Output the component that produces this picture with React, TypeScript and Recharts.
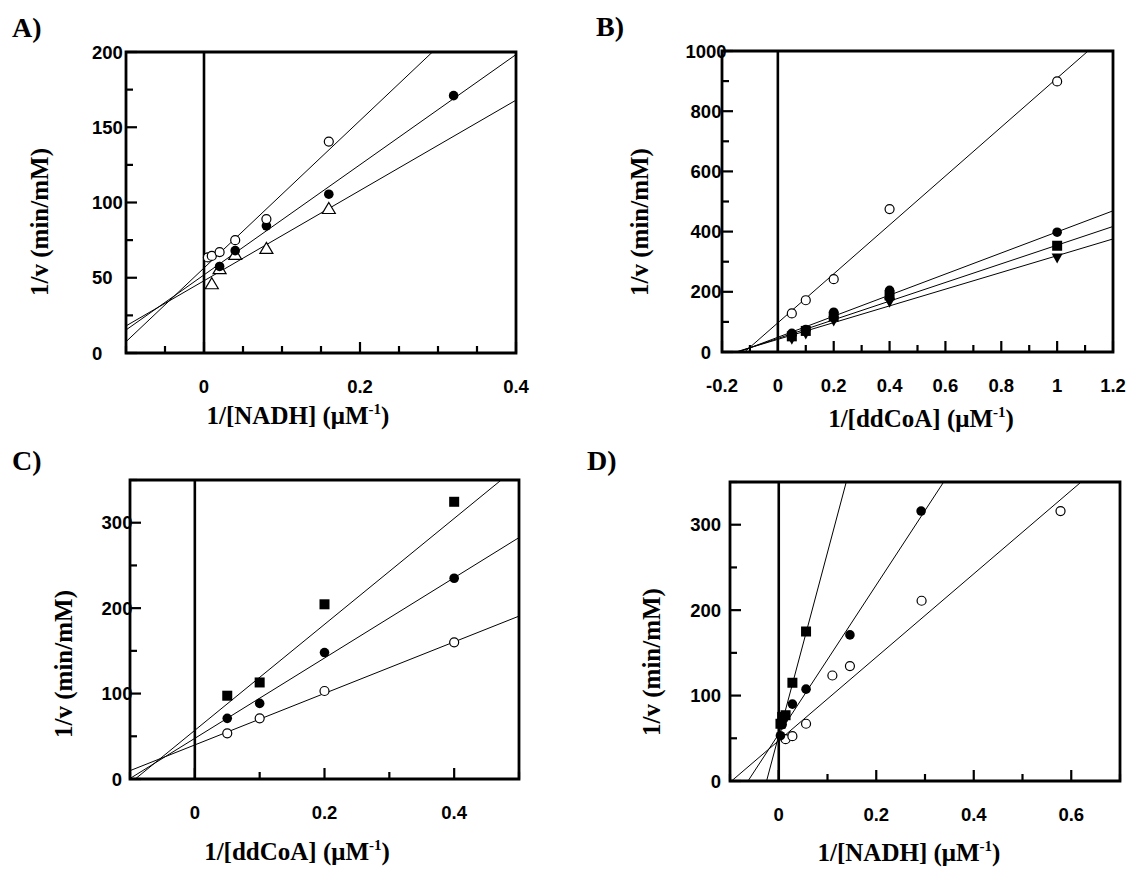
import React from 'react';
import { ScatterChart, Scatter, XAxis, YAxis, ReferenceLine, ReferenceArea } from 'recharts';

const W = 1128;
const H = 871;

// ---------- Panel A : 1/v vs 1/[NADH] ----------
const aXTicks = [-0.1, -0.05, 0, 0.05, 0.1, 0.15, 0.2, 0.25, 0.3, 0.35, 0.4];
const aXLabels = [0, 0.2, 0.4];
const aYTicks = [0, 25, 50, 75, 100, 125, 150, 175, 200];
const aYLabels = [0, 50, 100, 150, 200];
const aOpenX = [0.005, 0.01, 0.02, 0.04, 0.08, 0.16];
const aOpenY = [63.5, 64.5, 67, 75, 89, 140.5];
const aFilledX = [0.02, 0.04, 0.08, 0.16, 0.32];
const aFilledY = [57.5, 68, 84.5, 105.5, 171];
const aTriX = [0.01, 0.02, 0.04, 0.08, 0.16];
const aTriY = [46, 56, 65.5, 69.5, 96];
// fitted lines: [slope, intercept]
const aFitOpen = [490, 56.5];
const aFitFilled = [366, 51.9];
const aFitTri = [300, 48];

// ---------- Panel B : 1/v vs 1/[ddCoA] ----------
const bXTicks = [-0.2, -0.1, 0, 0.1, 0.2, 0.3, 0.4, 0.5, 0.6, 0.7, 0.8, 0.9, 1, 1.1, 1.2];
const bXLabels = [-0.2, 0, 0.2, 0.4, 0.6, 0.8, 1, 1.2];
const bYTicks = [0, 100, 200, 300, 400, 500, 600, 700, 800, 900, 1000];
const bYLabels = [0, 200, 400, 600, 800, 1000];
const bX = [0.05, 0.1, 0.2, 0.4, 1.0];
const bOpenY = [128, 172, 242, 475, 899];
const bCircleY = [62, 75, 132, 205, 398];
const bSquareY = [52, 70, 118, 188, 353];
const bTriY = [42, 60, 103, 165, 312];
const bFitOpen = [813, 97];
const bFitCircle = [350, 49];
const bFitSquare = [310, 45];
const bFitTri = [278, 42];

// ---------- Panel C : 1/v vs 1/[ddCoA] ----------
const cXTicks = [-0.1, 0, 0.1, 0.2, 0.3, 0.4, 0.5];
const cXLabels = [0, 0.2, 0.4];
const cYTicks = [0, 50, 100, 150, 200, 250, 300, 350];
const cYLabels = [0, 100, 200, 300];
const cX = [0.05, 0.1, 0.2, 0.4];
const cSquareY = [97.5, 113, 204.5, 324.5];
const cCircleY = [71, 88.5, 148, 235];
const cOpenY = [53.5, 71, 103, 160];
const cFitSquare = [620, 57];
const cFitCircle = [470, 47.6];
const cFitOpen = [301.5, 39.9];

// ---------- Panel D : 1/v vs 1/[NADH] ----------
const dXTicks = [-0.1, 0, 0.1, 0.2, 0.3, 0.4, 0.5, 0.6, 0.7];
const dXLabels = [0, 0.2, 0.4, 0.6];
const dYTicks = [0, 50, 100, 150, 200, 250, 300, 350];
const dYLabels = [0, 100, 200, 300];
const dSquareX = [0.0035, 0.007, 0.014, 0.028, 0.056];
const dSquareY = [67, 75, 77, 115, 175];
const dCircleX = [0.0035, 0.007, 0.028, 0.056, 0.146, 0.292];
const dCircleY = [53, 66, 90, 107.5, 171, 316];
const dOpenX = [0.014, 0.028, 0.056, 0.11, 0.146, 0.293, 0.578];
const dOpenY = [49, 52.5, 67, 123.5, 134.5, 211, 316];
const dFitSquare = [2141, 53.5];
const dFitCircle = [872, 55];
const dFitOpen = [488, 47.3];

const SANS = '"Liberation Sans", Arial, sans-serif';
const SERIF = '"Liberation Serif", "Times New Roman", serif';
const TICK_FONT = 18.5;

const pts = (xs: number[], ys: number[]) => xs.map((x, i) => ({ x, y: ys[i] }));

const openCircle = (p: any) => (
  <circle cx={p.cx} cy={p.cy} r={4.5} fill="#fff" stroke="#000" strokeWidth={1.2} />
);
const filledCircle = (p: any) => <circle cx={p.cx} cy={p.cy} r={4.8} fill="#000" />;
const filledSquare = (p: any) => (
  <rect x={p.cx - 5} y={p.cy - 5} width={10} height={10} fill="#000" />
);
const openTriangle = (p: any) => (
  <path
    d={`M${p.cx},${p.cy - 6} L${p.cx + 6.5},${p.cy + 5} L${p.cx - 6.5},${p.cy + 5} Z`}
    fill="#fff"
    stroke="#000"
    strokeWidth={1.2}
  />
);
const downTriangle = (p: any) => (
  <path
    d={`M${p.cx - 5.5},${p.cy - 4.5} L${p.cx + 5.5},${p.cy - 4.5} L${p.cx},${p.cy + 5.5} Z`}
    fill="#000"
  />
);

const isIn = (arr: number[], v: number) => arr.some((a) => Math.abs(a - v) < 1e-9);

type Rect = { left: number; top: number; right: number; bottom: number };
type Series = { data: { x: number; y: number }[]; shape: (p: any) => React.ReactElement };

interface PanelProps {
  rect: Rect;
  xDomain: [number, number];
  yDomain: [number, number];
  xTicks: number[];
  xLabels: number[];
  yTicks: number[];
  yLabels: number[];
  yLabelMode: { anchor: 'start' | 'middle' | 'end'; x: number };
  fits: number[][];
  series: Series[];
}

function Panel(props: PanelProps) {
  const { rect, xDomain, yDomain, xTicks, xLabels, yTicks, yLabels, yLabelMode, fits, series } = props;
  const xTick = (tp: any) => {
    const { x, payload } = tp;
    const y = rect.bottom;
    const v = payload.value;
    const major = isIn(xLabels, v);
    return (
      <g>
        <line x1={x} x2={x} y1={y} y2={y - (major ? 11 : 7)} stroke="#000" strokeWidth={2.2} />
        {major && (
          <text x={x} y={y + 40} textAnchor="middle" fontFamily={SANS} fontWeight="bold" fontSize={TICK_FONT} fill="#000">
            {String(v)}
          </text>
        )}
      </g>
    );
  };
  const yTick = (tp: any) => {
    const { y, payload } = tp;
    const x = rect.left;
    const v = payload.value;
    const major = isIn(yLabels, v);
    return (
      <g>
        <line x1={x} x2={x + (major ? 11 : 7)} y1={y} y2={y} stroke="#000" strokeWidth={2.2} />
        {major && (
          <text
            x={yLabelMode.x}
            y={y + 6.5}
            textAnchor={yLabelMode.anchor}
            fontFamily={SANS}
            fontWeight="bold"
            fontSize={TICK_FONT}
            fill="#000"
          >
            {String(v)}
          </text>
        )}
      </g>
    );
  };
  return (
    <div style={{ position: 'absolute', left: 0, top: 0 }}>
      <ScatterChart
        width={W}
        height={H}
        margin={{ top: rect.top, left: rect.left - 2, right: W - rect.right, bottom: H - rect.bottom - 2 }}
      >
        <XAxis
          type="number"
          dataKey="x"
          domain={xDomain}
          ticks={xTicks}
          interval={0}
          allowDataOverflow
          height={2}
          tickSize={0}
          tickMargin={0}
          tickLine={false}
          axisLine={false}
          tick={xTick}
        />
        <YAxis
          type="number"
          dataKey="y"
          domain={yDomain}
          ticks={yTicks}
          interval={0}
          allowDataOverflow
          width={2}
          tickSize={0}
          tickMargin={0}
          tickLine={false}
          axisLine={false}
          tick={yTick}
        />
        {fits.map((f, i) => (
          <ReferenceLine
            key={`fit${i}`}
            segment={[
              { x: xDomain[0], y: f[1] + f[0] * xDomain[0] },
              { x: xDomain[1], y: f[1] + f[0] * xDomain[1] },
            ]}
            stroke="#000"
            strokeWidth={1}
            ifOverflow="hidden"
          />
        ))}
        <ReferenceLine x={0} stroke="#000" strokeWidth={2.6} />
        <ReferenceArea
          x1={xDomain[0]}
          x2={xDomain[1]}
          y1={yDomain[0]}
          y2={yDomain[1]}
          fill="none"
          fillOpacity={0}
          stroke="#000"
          strokeWidth={2.8}
        />
        {series.map((s, i) => (
          <Scatter key={`s${i}`} data={s.data} shape={s.shape} isAnimationActive={false} />
        ))}
      </ScatterChart>
    </div>
  );
}

function XTitle({ x, y, text }: { x: number; y: number; text: string }) {
  return (
    <text x={x} y={y} textAnchor="middle" fontFamily={SERIF} fontWeight="bold" fontSize={25} fill="#000">
      {text} (μM
      <tspan dy={-10} fontSize={15}>
        -1
      </tspan>
      <tspan dy={10}>)</tspan>
    </text>
  );
}

function YTitle({ x, y }: { x: number; y: number }) {
  return (
    <text
      x={x}
      y={y}
      transform={`rotate(-90 ${x} ${y})`}
      textAnchor="middle"
      dominantBaseline="central"
      fontFamily={SERIF}
      fontWeight="bold"
      fontSize={25}
      fill="#000"
    >
      1/v (min/mM)
    </text>
  );
}

export default function App() {
  return (
    <div style={{ position: 'absolute', left: 0, top: 0, width: W, height: H, background: '#fff', overflow: 'hidden' }}>
      <Panel
        rect={{ left: 126, top: 52, right: 516, bottom: 353 }}
        xDomain={[-0.1, 0.4]}
        yDomain={[0, 200]}
        xTicks={aXTicks}
        xLabels={aXLabels}
        yTicks={aYTicks}
        yLabels={aYLabels}
        yLabelMode={{ anchor: 'start', x: 92 }}
        fits={[aFitOpen, aFitFilled, aFitTri]}
        series={[
          { data: pts(aTriX, aTriY), shape: openTriangle },
          { data: pts(aFilledX, aFilledY), shape: filledCircle },
          { data: pts(aOpenX, aOpenY), shape: openCircle },
        ]}
      />
      <Panel
        rect={{ left: 722, top: 51, right: 1113, bottom: 352 }}
        xDomain={[-0.2, 1.2]}
        yDomain={[0, 1000]}
        xTicks={bXTicks}
        xLabels={bXLabels}
        yTicks={bYTicks}
        yLabels={bYLabels}
        yLabelMode={{ anchor: 'middle', x: 706 }}
        fits={[bFitOpen, bFitCircle, bFitSquare, bFitTri]}
        series={[
          { data: pts(bX, bTriY), shape: downTriangle },
          { data: pts(bX, bSquareY), shape: filledSquare },
          { data: pts(bX, bCircleY), shape: filledCircle },
          { data: pts(bX, bOpenY), shape: openCircle },
        ]}
      />
      <Panel
        rect={{ left: 130, top: 480, right: 519, bottom: 779 }}
        xDomain={[-0.1, 0.5]}
        yDomain={[0, 350]}
        xTicks={cXTicks}
        xLabels={cXLabels}
        yTicks={cYTicks}
        yLabels={cYLabels}
        yLabelMode={{ anchor: 'middle', x: 117 }}
        fits={[cFitSquare, cFitCircle, cFitOpen]}
        series={[
          { data: pts(cX, cSquareY), shape: filledSquare },
          { data: pts(cX, cCircleY), shape: filledCircle },
          { data: pts(cX, cOpenY), shape: openCircle },
        ]}
      />
      <Panel
        rect={{ left: 730, top: 482, right: 1120, bottom: 781 }}
        xDomain={[-0.1, 0.7]}
        yDomain={[0, 350]}
        xTicks={dXTicks}
        xLabels={dXLabels}
        yTicks={dYTicks}
        yLabels={dYLabels}
        yLabelMode={{ anchor: 'end', x: 721 }}
        fits={[dFitSquare, dFitCircle, dFitOpen]}
        series={[
          { data: pts(dOpenX, dOpenY), shape: openCircle },
          { data: pts(dSquareX, dSquareY), shape: filledSquare },
          { data: pts(dCircleX, dCircleY), shape: filledCircle },
        ]}
      />
      <svg width={W} height={H} style={{ position: 'absolute', left: 0, top: 0, pointerEvents: 'none' }}>
        <text x={12} y={37} fontFamily={SERIF} fontWeight="bold" fontSize={28} fill="#000">A)</text>
        <text x={596} y={36} fontFamily={SERIF} fontWeight="bold" fontSize={28} fill="#000">B)</text>
        <text x={12} y={470} fontFamily={SERIF} fontWeight="bold" fontSize={28} fill="#000">C)</text>
        <text x={587} y={470} fontFamily={SERIF} fontWeight="bold" fontSize={28} fill="#000">D)</text>
        <YTitle x={39} y={222} />
        <YTitle x={639} y={222} />
        <YTitle x={63} y={664} />
        <YTitle x={651} y={662} />
        <XTitle x={298} y={424} text="1/[NADH]" />
        <XTitle x={921} y={427} text="1/[ddCoA]" />
        <XTitle x={297} y={860} text="1/[ddCoA]" />
        <XTitle x={909} y={861} text="1/[NADH]" />
      </svg>
    </div>
  );
}
